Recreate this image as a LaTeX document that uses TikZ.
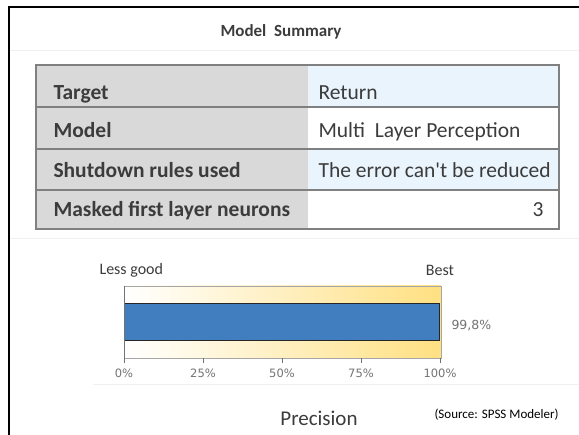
\documentclass[tikz,border=0pt]{standalone}
\usepackage{fontspec}
\setmainfont{Carlito}
\newfontfamily\tickfont{DejaVu Sans}

\definecolor{txtgray}{RGB}{60,60,60}
\definecolor{cellgray}{RGB}{217,217,217}
\definecolor{cellblue}{RGB}{234,244,253}
\definecolor{rulegray}{RGB}{128,128,128}
\definecolor{barblue}{RGB}{64,126,192}
\definecolor{bestyellow}{RGB}{255,224,130}

\tikzset{
  rowlabel/.style={anchor=base west,text=txtgray,font=\fontsize{21.5}{21.5}\selectfont\bfseries},
  rowvalue/.style={anchor=base west,text=txtgray,font=\fontsize{21.5}{21.5}\selectfont},
  ticklabel/.style={anchor=base,text=black!55,font=\tickfont\fontsize{11.5}{11.5}\selectfont},
  scalelabel/.style={text=txtgray,font=\fontsize{16}{16}\selectfont}
}

\begin{document}
\begin{tikzpicture}[x=1pt,y=-1pt]
  \useasboundingbox (0,0) rectangle (579,435);
  \fill[white] (0,0) rectangle (579,435);

  % panel edges
  \draw[black!6] (10,50) -- (579,50);
  \draw[black!6] (10,238) -- (579,238);
  \draw[black!6] (93,384) -- (579,384);
  \draw[line width=2pt] (9,437) -- (9,7) -- (581,7);

  \node[text=txtgray,font=\fontsize{17}{17}\selectfont\bfseries] (title) at (281,32) {Model\ \ Summary};

  % summary table
  \fill[cellgray] (36,65) rectangle (308,229);
  \fill[cellblue] (308,65) rectangle (559,107);
  \fill[white] (308,107) rectangle (559,149);
  \fill[cellblue] (308,149) rectangle (559,190);
  \fill[white] (308,190) rectangle (559,229);
  \foreach \y in {107,149,190}
  {
    \draw[rulegray,line width=1.5pt] (36,\y) -- (559,\y);
  }
  \draw[rulegray,line width=1.5pt] (36,65) rectangle (559,229);

  \node[rowlabel] (target) at (50,100) {Target};
  \node[rowlabel] (model) at (50,138) {Model};
  \node[rowlabel] (rules) at (50,178) {Shutdown rules used};
  \node[rowlabel] (masked) at (50,217) {Masked first layer neurons};
  \node[rowvalue] (targetval) at (315,100) {Return};
  \node[rowvalue] (modelval) at (315,138) {Multi\ \ Layer Perception};
  \node[rowvalue] (rulesval) at (315,178) {The error can\textquotesingle t be reduced};
  \node[rowvalue,anchor=base east] (maskedval) at (547,217) {3};

  % precision gauge
  \shade[left color=white,middle color=bestyellow!45!white,right color=bestyellow]
    (124,286) rectangle (441,358);
  \draw[black!35] (124,286) rectangle (441,358);
  \draw[fill=barblue,draw=black!85,line width=1pt] (124,304) rectangle (439,341);
  \draw[black!55,line width=1pt] (124,286) -- (124,363);
  \foreach \p/\t in {0/0,1/25,2/50,3/75,4/100}
  {
    \draw[black!55,line width=1pt] (124+\p*79,358) -- (124+\p*79,363);
    \node[ticklabel] (tick\t) at (124+\p*79,378) {\t\%};
  }
  \node[scalelabel,anchor=west] (lessgood) at (96,270) {Less good};
  \node[scalelabel] (best) at (440,270) {Best};
  \node[ticklabel,anchor=west,font=\tickfont\fontsize{12.5}{12.5}\selectfont] (score) at (448,326) {99,8\%};

  \node[text=txtgray,font=\fontsize{21}{21}\selectfont] (precision) at (319,418) {Precision};
  \node[text=black,font=\fontsize{13}{13}\selectfont,anchor=west] (source) at (431,415) {(Source: SPSS Modeler)};
\end{tikzpicture}
\end{document}
